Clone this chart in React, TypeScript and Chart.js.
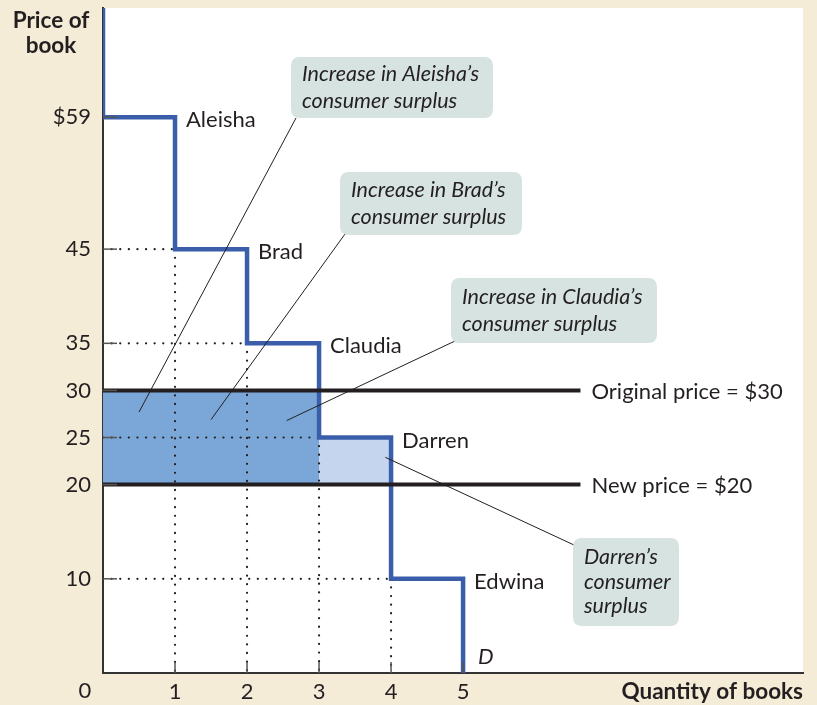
import React, { useEffect, useRef } from "react";
import { Chart, registerables } from "chart.js";

Chart.register(...registerables);

// ---- data ----
const quantityTicks = [1, 2, 3, 4, 5];
const priceTicks = [59, 45, 35, 30, 25, 20, 10];
const buyers = ["Aleisha", "Brad", "Claudia", "Darren", "Edwina"];
const willingnessToPay = [59, 45, 35, 25, 10];
const originalPrice = 30;
const newPrice = 20;
const priceLineEnd = 6.63;
const xMax = 9.72;
const yMax = 70.6;

const FONT = "Lato";
const BLUE = "#3b5eab";
const DARK_FILL = "#7ba7d8";
const LIGHT_FILL = "#c6d5ee";
const BOX = "#d6e3e0";
const CREAM = "#f5ecd8";
const INK = "#231f20";

// callout boxes (pixel layout) and the data point each leader line targets
const callouts = [
  { lines: ["Increase in Aleisha\u2019s", "consumer surplus"], box: [291, 57, 202, 61], from: [296, 118], to: [0.5, 27.7] },
  { lines: ["Increase in Brad\u2019s", "consumer surplus"], box: [340, 172, 182, 63], from: [345, 234], to: [1.5, 26.9] },
  { lines: ["Increase in Claudia\u2019s", "consumer surplus"], box: [451, 278, 206, 65], from: [455, 341], to: [2.55, 26.8] },
  { lines: ["Darren\u2019s", "consumer", "surplus"], box: [573, 538, 106, 88], from: [574, 545], to: [3.92, 22.9] },
];

function roundRect(ctx: CanvasRenderingContext2D, x: number, y: number, w: number, h: number, r: number) {
  ctx.beginPath();
  ctx.moveTo(x + r, y);
  ctx.lineTo(x + w - r, y);
  ctx.quadraticCurveTo(x + w, y, x + w, y + r);
  ctx.lineTo(x + w, y + h - r);
  ctx.quadraticCurveTo(x + w, y + h, x + w - r, y + h);
  ctx.lineTo(x + r, y + h);
  ctx.quadraticCurveTo(x, y + h, x, y + h - r);
  ctx.lineTo(x, y + r);
  ctx.quadraticCurveTo(x, y, x + r, y);
  ctx.closePath();
}

const decorPlugin = {
  id: "decor",
  afterDraw(chart: any) {
    const { ctx, chartArea, scales } = chart;
    const xs = scales.x;
    const ys = scales.y;
    ctx.save();
    // inner tick marks
    ctx.strokeStyle = "#555";
    ctx.lineWidth = 1.5;
    priceTicks.forEach((v) => {
      const y = ys.getPixelForValue(v);
      ctx.beginPath();
      ctx.moveTo(chartArea.left, y);
      ctx.lineTo(chartArea.left + 14, y);
      ctx.stroke();
    });
    quantityTicks.forEach((v) => {
      const x = xs.getPixelForValue(v);
      ctx.beginPath();
      ctx.moveTo(x, chartArea.bottom);
      ctx.lineTo(x, chartArea.bottom - 11);
      ctx.stroke();
    });

    // leader lines
    ctx.strokeStyle = INK;
    ctx.lineWidth = 1;
    callouts.forEach((c) => {
      ctx.beginPath();
      ctx.moveTo(c.from[0], c.from[1]);
      ctx.lineTo(xs.getPixelForValue(c.to[0]), ys.getPixelForValue(c.to[1]));
      ctx.stroke();
    });
    // boxes
    callouts.forEach((c) => {
      const [bx, by, bw, bh] = c.box;
      ctx.fillStyle = BOX;
      roundRect(ctx, bx, by, bw, bh, 9);
      ctx.fill();
      ctx.fillStyle = INK;
      ctx.font = `italic 21.5px ${FONT}`;
      ctx.textAlign = "left";
      ctx.textBaseline = "middle";
      const lh = c.lines.length === 3 ? 24.5 : 27.5;
      const y0 = by + bh / 2 - ((c.lines.length - 1) * lh) / 2;
      c.lines.forEach((t, i) => ctx.fillText(t, bx + 11, y0 + i * lh));
    });

    // buyer labels
    ctx.fillStyle = INK;
    ctx.font = `22px ${FONT}`;
    ctx.textAlign = "left";
    ctx.textBaseline = "middle";
    buyers.forEach((b, i) => {
      ctx.fillText(b, xs.getPixelForValue(i + 1) + 11, ys.getPixelForValue(willingnessToPay[i]) + 3);
    });
    ctx.fillText(`Original price = $${originalPrice}`, xs.getPixelForValue(priceLineEnd) + 11, ys.getPixelForValue(originalPrice) + 1);
    ctx.fillText(`New price = $${newPrice}`, xs.getPixelForValue(priceLineEnd) + 11, ys.getPixelForValue(newPrice) + 1);
    ctx.font = `italic 22px ${FONT}`;
    ctx.fillText("D", xs.getPixelForValue(quantityTicks[quantityTicks.length - 1]) + 15, chartArea.bottom - 16);

    // origin label
    ctx.font = `22px ${FONT}`;
    ctx.textAlign = "center";
    ctx.fillText("0", chartArea.left - 18, chartArea.bottom + 18);

    // axis titles
    ctx.font = `bold 22.5px ${FONT}`;
    ctx.textAlign = "center";
    ctx.fillText("Price of", 51, 21);
    ctx.fillText("book", 51, 46);
    ctx.textAlign = "right";
    ctx.fillText("Quantity of books", chartArea.right, chartArea.bottom + 19);
    ctx.restore();
  },
};

export default function App() {
  const ref = useRef<HTMLCanvasElement | null>(null);

  useEffect(() => {
    document.body.style.margin = "0";
    document.body.style.background = CREAM;

    const demandPts: { x: number; y: number }[] = [{ x: 0, y: yMax }];
    willingnessToPay.forEach((w, i) => {
      demandPts.push({ x: i, y: w }, { x: i + 1, y: w });
    });
    demandPts.push({ x: willingnessToPay.length, y: 0 });

    const datasets: any[] = [];
    const base = { showLine: true, pointRadius: 0, tension: 0, parsing: false };

    // surplus areas
    const gainers = willingnessToPay.filter((w) => w >= originalPrice).length;
    datasets.push({
      ...base,
      data: [{ x: 0, y: originalPrice }, { x: gainers, y: originalPrice }],
      borderWidth: 0,
      backgroundColor: DARK_FILL,
      fill: { value: newPrice },
      order: 5,
    });
    willingnessToPay.forEach((w, i) => {
      if (w >= newPrice && w < originalPrice) {
        datasets.push({
          ...base,
          data: [{ x: i, y: w }, { x: i + 1, y: w }],
          borderWidth: 0,
          backgroundColor: LIGHT_FILL,
          fill: { value: newPrice },
          order: 5,
        });
      }
    });

    // dotted guides
    willingnessToPay.forEach((w, i) => {
      if (i === 0) return;
      const dot = {
        ...base,
        borderColor: INK,
        borderWidth: 2.2,
        borderDash: [0.1, 8.5],
        borderCapStyle: "round",
        fill: false,
        order: 4,
      };
      datasets.push({ ...dot, data: [{ x: 0, y: w }, { x: i, y: w }] });
      datasets.push({ ...dot, data: [{ x: i, y: w }, { x: i, y: 0 }] });
    });

    // demand curve
    datasets.push({
      ...base,
      data: demandPts,
      borderColor: BLUE,
      borderWidth: 4.5,
      borderJoinStyle: "miter",
      fill: false,
      order: 3,
    });

    // price lines
    [originalPrice, newPrice].forEach((p) => {
      datasets.push({
        ...base,
        data: [{ x: 0, y: p }, { x: priceLineEnd, y: p }],
        borderColor: INK,
        borderWidth: 4,
        fill: false,
        order: 1,
      });
    });

    const chart = new Chart(ref.current as HTMLCanvasElement, {
      type: "scatter",
      data: { datasets },
      options: {
        responsive: false,
        animation: false,
        events: [],
        layout: { padding: { left: 0, right: 14, top: 8, bottom: 0 } },
        plugins: { legend: { display: false }, tooltip: { enabled: false } },
        scales: {
          x: {
            type: "linear",
            min: 0,
            max: xMax,
            afterBuildTicks: (s: any) => {
              s.ticks = quantityTicks.map((v) => ({ value: v }));
            },
            afterFit: (s: any) => {
              s.height = 32;
              s.paddingLeft = 0;
              s.paddingRight = 0;
            },
            ticks: { color: INK, font: { family: FONT, size: 22 }, padding: 6, autoSkip: false, maxRotation: 0 },
            grid: { display: false, drawTicks: false, tickLength: 0 },
            border: { display: true, color: "#333", width: 2 },
          },
          y: {
            type: "linear",
            min: 0,
            max: yMax,
            afterBuildTicks: (s: any) => {
              s.ticks = priceTicks.map((v) => ({ value: v }));
            },
            afterFit: (s: any) => {
              s.width = 103;
              s.paddingTop = 0;
              s.paddingBottom = 0;
            },
            ticks: {
              color: INK,
              font: { family: FONT, size: 22 },
              padding: 12,
              autoSkip: false,
              callback: (v: any) => (v === priceTicks[0] ? `$${v}` : `${v}`),
            },
            grid: { display: false, drawTicks: false, tickLength: 0 },
            border: { display: true, color: "#333", width: 2 },
          },
        },
      },
      plugins: [
        {
          id: "whiteArea",
          beforeDraw(c: any) {
            const { ctx, chartArea } = c;
            ctx.save();
            ctx.fillStyle = CREAM;
            ctx.fillRect(0, 0, c.width, c.height);
            ctx.fillStyle = "#ffffff";
            ctx.fillRect(chartArea.left, chartArea.top, chartArea.right - chartArea.left, chartArea.bottom - chartArea.top);
            ctx.restore();
          },
        },
        decorPlugin,
      ],
    });
    return () => chart.destroy();
  }, []);

  return (
    <div style={{ position: "absolute", left: 0, top: 0, width: 817, height: 705, background: CREAM }}>
      <canvas ref={ref} width={817} height={705} style={{ display: "block" }} />
    </div>
  );
}
